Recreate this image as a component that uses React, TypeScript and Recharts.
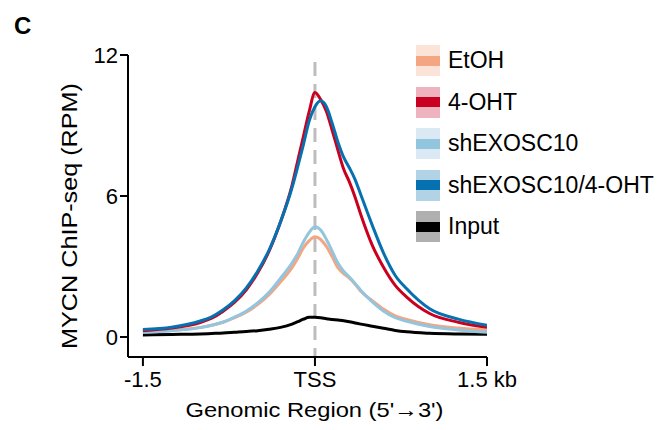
import React from "react";
import {
  LineChart,
  Line,
  XAxis,
  YAxis,
  ReferenceLine,
} from "recharts";

// distance from TSS in kb
const positions = [
  -1.5, -1.25, -1.0, -0.9, -0.8, -0.7, -0.6, -0.5, -0.4, -0.3, -0.2, -0.15, -0.1, -0.05,
  0, 0.05, 0.1, 0.15, 0.2, 0.25, 0.3, 0.35, 0.4, 0.5, 0.6, 0.7, 0.8, 1.0, 1.25, 1.5,
];

const etoh = [
  0.23, 0.28, 0.41, 0.5, 0.63, 0.82, 1.06, 1.38, 1.8, 2.35, 2.95, 3.35, 3.8, 4.1,
  4.27, 4.15, 3.85, 3.42, 2.95, 2.7, 2.5, 2.25, 1.95, 1.55, 1.18, 0.9, 0.75, 0.52, 0.38, 0.3,
];
const oht = [
  0.27, 0.38, 0.62, 0.8, 1.1, 1.48, 2.0, 2.72, 3.65, 4.9, 6.45, 7.5, 8.55, 9.6,
  10.4, 10.1, 9.6, 8.8, 7.95, 7.15, 6.6, 5.95, 5.2, 3.9, 2.95, 2.2, 1.7, 1.0, 0.63, 0.41,
];
const shExo = [
  0.2, 0.27, 0.4, 0.5, 0.64, 0.85, 1.1, 1.45, 1.9, 2.5, 3.15, 3.55, 4.05, 4.45,
  4.69, 4.55, 4.15, 3.65, 3.15, 2.8, 2.55, 2.28, 1.98, 1.5, 1.1, 0.82, 0.67, 0.45, 0.3, 0.2,
];
const shExoOht = [
  0.32, 0.42, 0.68, 0.86, 1.16, 1.55, 2.08, 2.8, 3.7, 4.9, 6.35, 7.25, 8.2, 9.2,
  9.8, 10.05, 9.8, 9.1, 8.3, 7.65, 7.2, 6.7, 6.05, 4.75, 3.55, 2.62, 2.05, 1.2, 0.76, 0.5,
];
const input = [
  0.09, 0.11, 0.13, 0.15, 0.17, 0.2, 0.23, 0.27, 0.33, 0.41, 0.55, 0.65, 0.76, 0.84,
  0.84, 0.82, 0.78, 0.75, 0.72, 0.69, 0.65, 0.6, 0.55, 0.46, 0.37, 0.28, 0.22, 0.16, 0.13, 0.12,
];

const xTicks = [-1.5, 0, 1.5];
const xTickLabels: Record<string, string> = { "-1.5": "-1.5", "0": "TSS", "1.5": "1.5 kb" };
const yTicks = [0, 6, 12];

const SERIES = [
  { key: "input", label: "Input", color: "#000000", pale: "#b0b0b0" },
  { key: "etoh", label: "EtOH", color: "#f4a582", pale: "#fbe3d8" },
  { key: "shExo", label: "shEXOSC10", color: "#92c5de", pale: "#dbe9f4" },
  { key: "oht", label: "4-OHT", color: "#ca0020", pale: "#efb3bf" },
  { key: "shExoOht", label: "shEXOSC10/4-OHT", color: "#0571b0", pale: "#b2d2e6" },
];
const LEGEND_ORDER = ["etoh", "oht", "shExo", "shExoOht", "input"];

const FONT = '"Liberation Sans", Arial, sans-serif';

const data = positions.map((x, i) => ({
  x,
  etoh: etoh[i],
  oht: oht[i],
  shExo: shExo[i],
  shExoOht: shExoOht[i],
  input: input[i],
}));

function YTitle(props: any) {
  const { viewBox } = props;
  const cx = 77;
  const cy = viewBox.y + viewBox.height / 2 + 10;
  return (
    <text
      x={cx}
      y={cy}
      transform={`rotate(-90, ${cx}, ${cy})`}
      textAnchor="middle"
      fontSize={22}
      textLength={266}
      lengthAdjust="spacingAndGlyphs"
      fill="#000"
      fontFamily={FONT}
    >
      MYCN ChIP-seq (RPM)
    </text>
  );
}

function XTitle(props: any) {
  const { viewBox } = props;
  const cx = viewBox.x + viewBox.width / 2 + 7;
  return (
    <text
      x={cx}
      y={viewBox.y + 60}
      textAnchor="middle"
      fontSize={21}
      textLength={258}
      lengthAdjust="spacingAndGlyphs"
      fill="#000"
      fontFamily={FONT}
    >
      Genomic Region (5'→3')
    </text>
  );
}

export default function App() {
  return (
    <div style={{ position: "absolute", left: 0, top: 0, width: 663, height: 430, background: "#fff", fontFamily: FONT }}>
      <div style={{ position: "absolute", left: 14, top: 14, fontSize: 24, lineHeight: "24px", fontWeight: 700 }}>C</div>

      <LineChart width={663} height={430} data={data} margin={{ top: 55, right: 176, left: 68, bottom: 13 }}>
        <XAxis
          dataKey="x"
          type="number"
          domain={[-1.63, 1.5]}
          ticks={xTicks}
          tickFormatter={(v) => xTickLabels[String(v)]}
          allowDataOverflow
          height={60}
          axisLine={{ stroke: "#000", strokeWidth: 2 }}
          tickLine={{ stroke: "#000", strokeWidth: 2 }}
          tickSize={9}
          tickMargin={5}
          tick={{ fontSize: 22, fill: "#000", fontFamily: FONT }}
          label={<XTitle />}
        />
        <YAxis
          type="number"
          domain={[-0.85, 12]}
          ticks={yTicks}
          allowDataOverflow
          width={60}
          axisLine={{ stroke: "#000", strokeWidth: 2 }}
          tickLine={{ stroke: "#000", strokeWidth: 2 }}
          tickSize={8}
          tickMargin={2}
          tick={{ fontSize: 22, fill: "#000", fontFamily: FONT }}
          label={<YTitle />}
        />
        <ReferenceLine
          segment={[{ x: 0, y: 11.7 }, { x: 0, y: -0.85 }]}
          stroke="#bdbdbd"
          strokeWidth={3}
          strokeDasharray="14 8"
        />
        {SERIES.map((s) => (
          <Line
            key={s.key}
            dataKey={s.key}
            type="monotone"
            stroke={s.color}
            strokeWidth={3}
            dot={false}
            activeDot={false}
            isAnimationActive={false}
          />
        ))}
      </LineChart>

      {/* legend */}
      <div style={{ position: "absolute", left: 416, top: 45 }}>
        {LEGEND_ORDER.map((k) => {
          const s = SERIES.find((d) => d.key === k)!;
          return (
            <div key={k} style={{ display: "flex", alignItems: "center", height: 31, marginBottom: 10.5 }}>
              <div
                style={{
                  width: 24,
                  height: 31,
                  background: s.pale,
                  display: "flex",
                  alignItems: "center",
                }}
              >
                <div style={{ width: 24, height: 10, background: s.color }} />
              </div>
              <span style={{ marginLeft: 8, fontSize: 23, color: "#000", whiteSpace: "nowrap" }}>{s.label}</span>
            </div>
          );
        })}
      </div>
    </div>
  );
}
